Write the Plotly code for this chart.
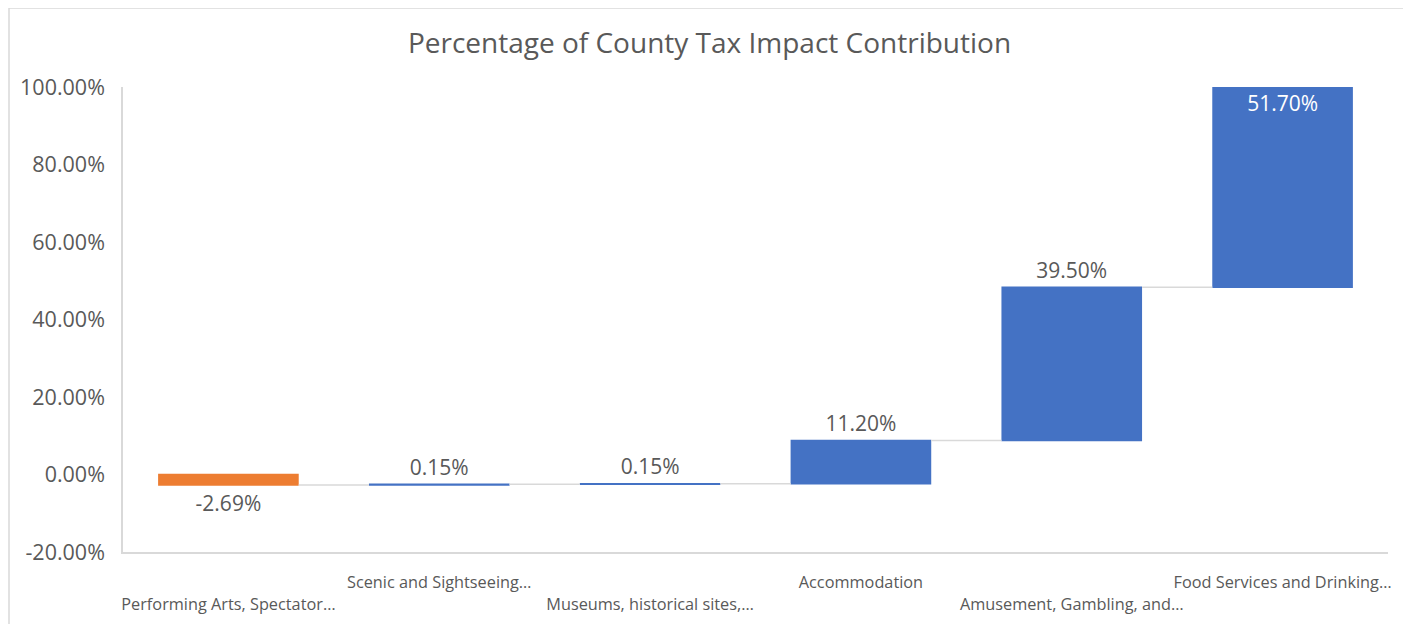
import plotly.graph_objects as go

categories = [
    "Performing Arts, Spectator…",
    "Scenic and Sightseeing…",
    "Museums, historical sites,…",
    "Accommodation",
    "Amusement, Gambling, and…",
    "Food Services and Drinking…",
]
values = [-2.69, 0.15, 0.15, 11.20, 39.50, 51.70]
y_tickvals = [-20, 0, 20, 40, 60, 80, 100]
y_ticktext = ["-20.00%", "0.00%", "20.00%", "40.00%", "60.00%", "80.00%", "100.00%"]

labels = [f"{v:.2f}%" for v in values]
# Staggered category labels like Excel (alternate rows)
ticktext = [("<br>" + c) if i % 2 == 0 else (c + "<br> ") for i, c in enumerate(categories)]

textpos = ["outside"] * (len(values) - 1) + ["inside"]

fig = go.Figure(
    go.Waterfall(
        x=categories,
        y=values,
        measure=["relative"] * len(values),
        text=labels,
        textposition=textpos,
        insidetextanchor="end",
        constraintext="none",
        textfont=dict(family="Open Sans", size=21),
        outsidetextfont=dict(family="Open Sans", size=21, color="#595959"),
        insidetextfont=dict(family="Open Sans", size=21, color="#ffffff"),
        increasing=dict(marker=dict(color="#4472C4", line=dict(color="#4472C4", width=0))),
        decreasing=dict(marker=dict(color="#ED7D31", line=dict(color="#ED7D31", width=0))),
        connector=dict(mode="between", line=dict(color="#d9d9d9", width=1.5)),
        hoverinfo="skip",
    )
)

# page body has an 8px default margin; compensate
OFF = 8
W, H = 1411 - OFF, 624 - OFF
L, R, T, B = 123 - OFF, 23, 87 - OFF, 72
pw, ph = W - L - R, H - T - B

fig.update_layout(
    width=W,
    height=H,
    margin=dict(l=L, r=R, t=T, b=B, autoexpand=False),
    paper_bgcolor="white",
    plot_bgcolor="white",
    waterfallgap=0.333,
    showlegend=False,
    title=dict(
        text="Percentage of County Tax Impact Contribution",
        x=0.5,
        xanchor="center",
        y=1 - (43 - OFF) / H,
        yanchor="middle",
        font=dict(family="Open Sans", size=28, color="#595959"),
    ),
    font=dict(family="Open Sans", color="#595959"),
    xaxis=dict(
        tickmode="array",
        tickvals=categories,
        ticktext=ticktext,
        tickfont=dict(family="Open Sans", size=16.3, color="#595959"),
        showline=True,
        linecolor="#d9d9d9",
        linewidth=1.5,
        ticks="outside",
        ticklen=15,
        tickcolor="rgba(0,0,0,0)",
        tickangle=0,
        showgrid=False,
        automargin=False,
        fixedrange=True,
    ),
    yaxis=dict(
        range=[-20, 100.02],
        tickmode="array",
        tickvals=y_tickvals,
        ticktext=y_ticktext,
        tickfont=dict(family="Open Sans", size=21.5, color="#595959"),
        showline=True,
        linecolor="#d9d9d9",
        linewidth=1.5,
        showgrid=False,
        zeroline=False,
        ticks="outside",
        ticklen=12,
        tickcolor="rgba(0,0,0,0)",
        automargin=False,
        fixedrange=True,
    ),
    shapes=[
        dict(
            type="rect",
            xref="paper",
            yref="paper",
            x0=(9 - 123) / pw,
            x1=(1408 - 123) / pw,
            y0=-(B + 10) / ph,
            y1=1 + (87 - 8) / ph,
            line=dict(color="#d9d9d9", width=1.5),
            layer="below",
        )
    ],
)

fig.write_html("out.html")
